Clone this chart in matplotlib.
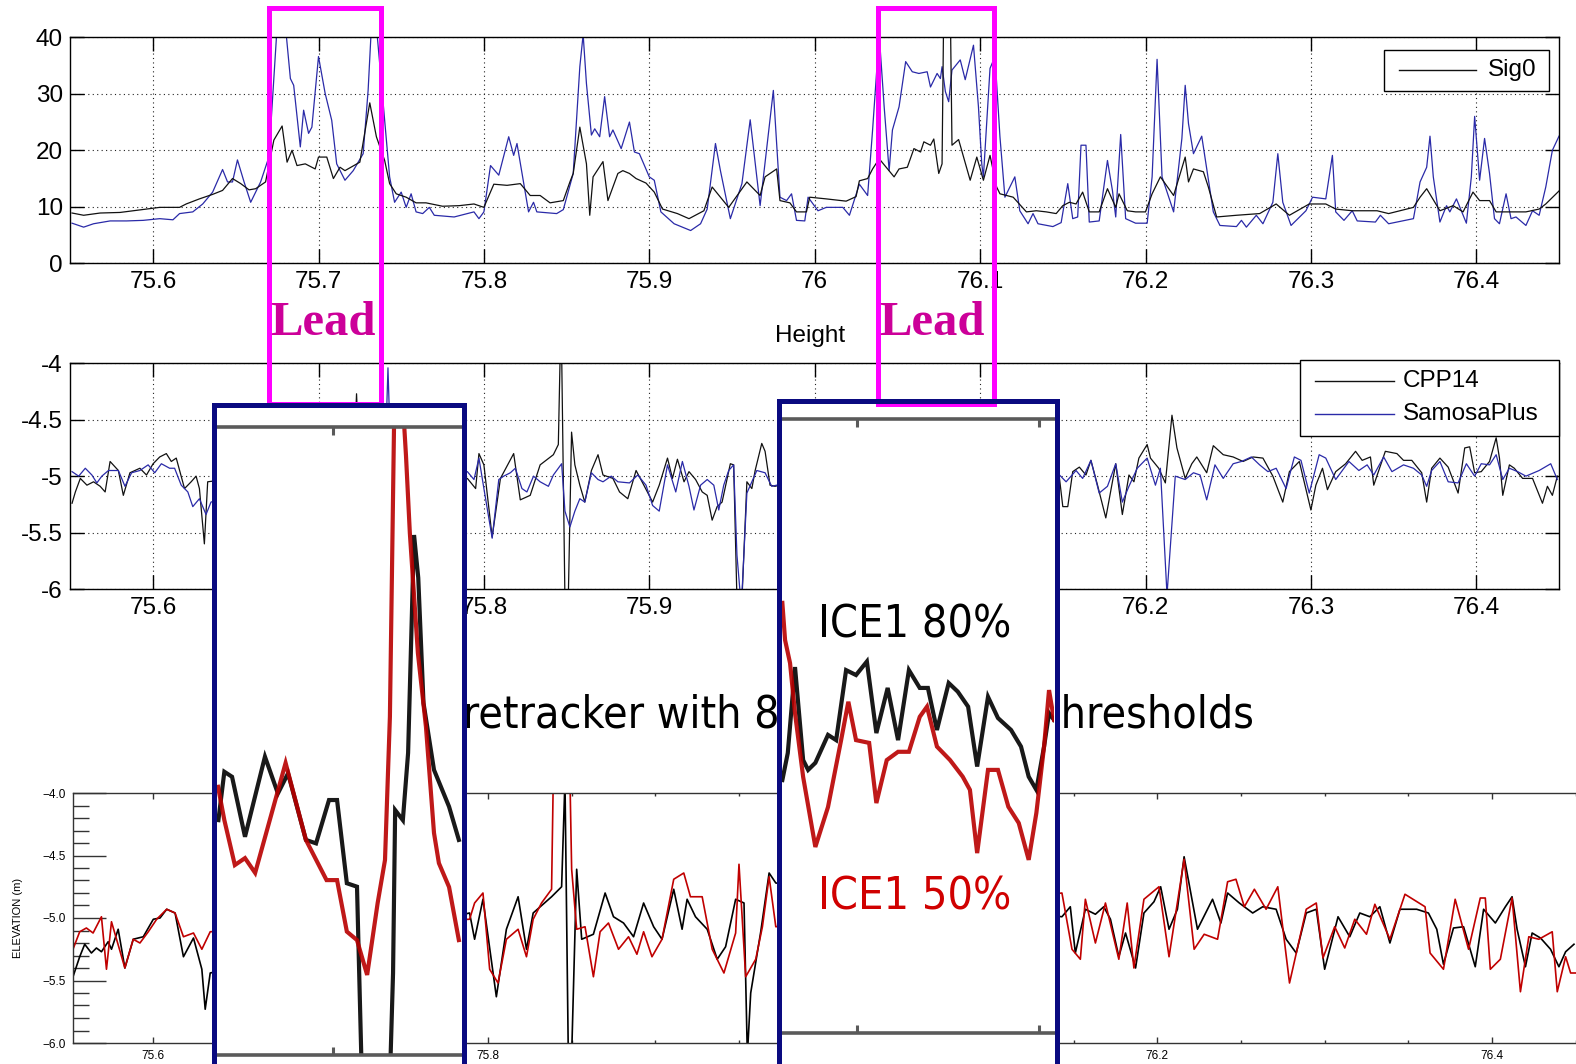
import numpy as np
import matplotlib
matplotlib.use('Agg')
import matplotlib.pyplot as plt
from matplotlib import font_manager
from matplotlib.patches import Rectangle
from matplotlib.lines import Line2D
from matplotlib.ticker import MultipleLocator, FixedLocator, FuncFormatter

W, H = 1576, 1064
plt.rcParams['axes.unicode_minus'] = False
plt.rcParams['font.family'] = ['Liberation Sans', 'DejaVu Sans']

# pick a narrow sans for the slide texts if one is installed
_installed = font_manager.fontManager.ttflist
_narrow = [f.name for f in _installed
           if ('Narrow' in f.name or 'Condensed' in f.name or f.stretch in ('condensed', 'semi-condensed'))
           and 'Serif' not in f.name and 'Mono' not in f.name]
NARROW = ([_narrow[0]] if _narrow else []) + ['Liberation Sans', 'DejaVu Sans']
NARROW_STRETCH = 'condensed' if _narrow else 'normal'

# ---------------- data: top panel (Sig0) ----------------
sig_black_x = [75.551, 75.558, 75.568, 75.580, 75.588, 75.596, 75.604, 75.616, 75.620, 75.628, 75.632, 75.636,
               75.642, 75.648, 75.653, 75.658, 75.662, 75.668, 75.673, 75.678, 75.681, 75.684, 75.687, 75.692,
               75.698, 75.700, 75.705, 75.709, 75.713, 75.716, 75.725, 75.731, 75.735, 75.740, 75.743, 75.747,
               75.753, 75.759, 75.765, 75.775, 75.785, 75.794, 75.800, 75.806, 75.814, 75.822, 75.828, 75.834,
               75.840, 75.848, 75.852, 75.854, 75.858, 75.862, 75.864, 75.866, 75.872, 75.875, 75.881, 75.884,
               75.888, 75.892, 75.898, 75.903, 75.908, 75.917, 75.924, 75.933, 75.938, 75.948, 75.959, 75.967,
               75.970, 75.977, 75.979, 75.985, 75.989, 75.995, 75.997, 76.007, 76.019, 76.025, 76.027, 76.032,
               76.035, 76.039, 76.048, 76.051, 76.056, 76.060, 76.064, 76.066, 76.070, 76.072, 76.075, 76.077,
               76.078, 76.082, 76.083, 76.087, 76.094, 76.098, 76.102, 76.106, 76.110, 76.112, 76.120, 76.128,
               76.134, 76.140, 76.146, 76.150, 76.154, 76.158, 76.162, 76.166, 76.172, 76.177, 76.182, 76.184,
               76.189, 76.194, 76.200, 76.204, 76.209, 76.217, 76.224, 76.226, 76.229, 76.235, 76.238, 76.243,
               76.255, 76.269, 76.279, 76.287, 76.299, 76.309, 76.315, 76.325, 76.340, 76.347, 76.362, 76.366,
               76.370, 76.378, 76.386, 76.392, 76.398, 76.402, 76.408, 76.412, 76.430, 76.438, 76.442, 76.450]
sig_black_y = [8.9, 8.5, 8.9, 9.0, 9.3, 9.6, 9.9, 9.9, 10.5, 11.4, 11.8, 12.2,
               12.9, 15.0, 14.1, 13.0, 13.2, 14.4, 21.8, 24.3, 17.9, 20.0, 17.3, 17.6,
               16.7, 18.8, 18.8, 15.0, 17.0, 16.4, 17.9, 28.4, 22.4, 18.2, 14.1, 12.3,
               11.7, 10.7, 10.7, 10.1, 10.2, 10.5, 9.9, 14.0, 13.8, 14.1, 12.0, 12.0,
               10.7, 11.1, 14.4, 15.9, 24.1, 17.6, 8.5, 15.3, 18.0, 11.1, 15.9, 16.4,
               15.9, 15.0, 14.2, 12.6, 9.6, 8.8, 7.9, 9.3, 13.5, 9.9, 14.4, 12.0,
               15.3, 16.7, 11.1, 10.7, 9.1, 9.1, 11.7, 11.4, 11.0, 11.8, 14.6, 15.0,
               16.7, 18.5, 15.3, 16.7, 17.0, 20.3, 19.7, 21.5, 20.9, 22.0, 15.9, 17.6,
               45.0, 45.0, 20.9, 21.9, 14.7, 18.8, 14.7, 19.1, 13.5, 12.3, 11.7, 9.1,
               9.3, 9.1, 8.8, 10.2, 10.8, 10.5, 12.6, 9.1, 9.1, 13.2, 9.9, 12.3,
               9.3, 9.1, 9.1, 12.3, 15.3, 12.0, 18.8, 14.4, 16.7, 16.2, 13.5, 8.2,
               8.5, 8.8, 10.5, 8.5, 10.5, 10.5, 9.6, 9.3, 9.3, 8.8, 9.9, 11.7,
               13.2, 9.3, 10.2, 9.1, 12.6, 11.1, 11.1, 9.1, 9.1, 9.6, 10.5, 12.8]

sig_blue_x = [75.551, 75.558, 75.564, 75.574, 75.584, 75.594, 75.604, 75.612, 75.616, 75.624, 75.630, 75.636,
              75.642, 75.645, 75.648, 75.651, 75.655, 75.659, 75.665, 75.670, 75.675, 75.680, 75.683, 75.685,
              75.689, 75.691, 75.694, 75.696, 75.700, 75.704, 75.708, 75.711, 75.716, 75.721, 75.727, 75.730,
              75.732, 75.735, 75.740, 75.743, 75.746, 75.750, 75.753, 75.756, 75.759, 75.763, 75.767, 75.770,
              75.782, 75.794, 75.797, 75.800, 75.804, 75.809, 75.815, 75.818, 75.820, 75.827, 75.830, 75.832,
              75.844, 75.848, 75.854, 75.858, 75.860, 75.862, 75.865, 75.867, 75.870, 75.873, 75.876, 75.878,
              75.883, 75.888, 75.891, 75.894, 75.900, 75.903, 75.907, 75.915, 75.925, 75.931, 75.935, 75.940,
              75.943, 75.949, 75.956, 75.961, 75.967, 75.975, 75.979, 75.983, 75.986, 75.989, 75.994, 75.996,
              76.002, 76.007, 76.017, 76.021, 76.027, 76.032, 76.035, 76.039, 76.042, 76.045, 76.047, 76.051,
              76.055, 76.059, 76.063, 76.068, 76.070, 76.074, 76.076, 76.077, 76.079, 76.081, 76.083, 76.088,
              76.091, 76.096, 76.099, 76.101, 76.102, 76.106, 76.109, 76.112, 76.115, 76.121, 76.124, 76.129,
              76.132, 76.135, 76.144, 76.149, 76.153, 76.156, 76.159, 76.161, 76.164, 76.166, 76.172, 76.177,
              76.180, 76.182, 76.185, 76.188, 76.194, 76.201, 76.204, 76.207, 76.210, 76.217, 76.222, 76.224,
              76.226, 76.229, 76.234, 76.241, 76.245, 76.255, 76.258, 76.261, 76.267, 76.271, 76.277, 76.280,
              76.283, 76.288, 76.297, 76.301, 76.309, 76.313, 76.315, 76.320, 76.325, 76.328, 76.339, 76.342,
              76.347, 76.362, 76.366, 76.370, 76.372, 76.374, 76.378, 76.382, 76.384, 76.388, 76.394, 76.397,
              76.399, 76.402, 76.405, 76.408, 76.411, 76.414, 76.418, 76.421, 76.424, 76.430, 76.434, 76.438,
              76.442, 76.446, 76.450]
sig_blue_y = [7.1, 6.4, 7.0, 7.5, 7.5, 7.6, 7.9, 7.7, 8.8, 9.1, 10.5, 12.6,
              16.6, 14.4, 14.4, 18.3, 14.4, 10.8, 14.4, 18.8, 42.0, 42.0, 32.7, 31.5,
              20.6, 27.1, 23.0, 24.1, 36.6, 30.1, 25.3, 17.6, 14.7, 16.4, 19.4, 30.6,
              42.0, 42.0, 25.3, 15.3, 10.8, 12.6, 9.9, 12.3, 9.1, 8.8, 9.9, 8.5,
              8.2, 9.1, 7.9, 9.1, 17.3, 15.6, 22.4, 19.1, 21.2, 9.1, 10.8, 9.1,
              8.8, 9.5, 15.9, 34.8, 40.5, 31.8, 22.7, 23.8, 22.4, 29.5, 22.4, 23.6,
              20.3, 25.0, 19.7, 19.4, 15.3, 14.7, 9.1, 7.0, 5.8, 7.0, 9.6, 21.2,
              16.4, 7.9, 14.1, 25.4, 10.2, 30.6, 11.7, 11.1, 12.3, 7.6, 7.5, 11.7,
              9.3, 9.9, 9.9, 8.5, 14.0, 12.0, 23.6, 40.5, 27.7, 16.4, 23.6, 27.7,
              35.7, 33.9, 33.6, 33.9, 31.2, 33.6, 32.7, 34.8, 30.4, 28.6, 34.2, 36.0,
              32.5, 38.6, 27.7, 17.6, 15.3, 34.5, 36.6, 22.4, 11.7, 15.3, 9.3, 7.0,
              8.8, 7.0, 6.5, 7.2, 14.1, 7.9, 8.2, 20.9, 20.9, 7.3, 7.5, 18.2,
              12.9, 8.2, 22.8, 7.9, 7.1, 7.1, 15.3, 36.1, 15.3, 9.1, 22.1, 31.5,
              24.7, 19.4, 22.5, 9.1, 6.7, 6.5, 7.6, 6.4, 8.5, 7.0, 10.8, 19.4,
              10.8, 6.7, 9.3, 11.7, 11.4, 19.1, 9.1, 7.6, 9.3, 7.5, 7.3, 8.5,
              7.0, 7.9, 14.4, 17.0, 22.5, 15.3, 7.3, 10.2, 9.1, 11.4, 7.1, 15.3,
              26.0, 14.7, 22.1, 15.9, 7.9, 7.0, 12.3, 7.9, 8.2, 6.7, 9.3, 8.5,
              13.5, 20.0, 22.5]

# ---------------- data: middle panel (Height) ----------------
cpp_x = [75.551, 75.553, 75.556, 75.560, 75.564, 75.568, 75.571, 75.574, 75.579, 75.582, 75.586, 75.592,
         75.596, 75.600, 75.604, 75.608, 75.611, 75.614, 75.619, 75.623, 75.626, 75.628, 75.631, 75.633,
         75.660, 75.700, 75.721, 75.723, 75.725, 75.760, 75.790, 75.795, 75.797, 75.800, 75.805, 75.810,
         75.818, 75.822, 75.828, 75.834, 75.842, 75.845, 75.846, 75.847, 75.849, 75.851, 75.853, 75.855,
         75.858, 75.861, 75.865, 75.869, 75.872, 75.878, 75.882, 75.887, 75.892, 75.896, 75.902, 75.906,
         75.911, 75.914, 75.917, 75.921, 75.924, 75.928, 75.932, 75.935, 75.938, 75.941, 75.944, 75.949,
         75.951, 75.953, 75.956, 75.959, 75.962, 75.964, 75.968, 75.970, 75.973, 75.976, 76.000, 76.040,
         76.090, 76.130, 76.148, 76.150, 76.153, 76.156, 76.160, 76.164, 76.167, 76.171, 76.176, 76.182,
         76.186, 76.190, 76.193, 76.196, 76.201, 76.203, 76.208, 76.212, 76.216, 76.219, 76.224, 76.228,
         76.231, 76.237, 76.241, 76.247, 76.253, 76.259, 76.265, 76.271, 76.277, 76.283, 76.287, 76.293,
         76.300, 76.303, 76.307, 76.310, 76.315, 76.321, 76.327, 76.331, 76.336, 76.338, 76.345, 76.352,
         76.356, 76.361, 76.367, 76.370, 76.373, 76.378, 76.383, 76.389, 76.393, 76.396, 76.399, 76.403,
         76.408, 76.412, 76.414, 76.416, 76.420, 76.423, 76.428, 76.434, 76.440, 76.443, 76.446, 76.449]
cpp_y = [-5.24, -5.14, -5.02, -5.08, -5.05, -5.09, -5.14, -4.87, -4.95, -5.17, -4.97, -4.93,
         -4.99, -4.89, -4.83, -4.80, -4.87, -4.84, -5.11, -5.05, -5.00, -5.11, -5.60, -5.05,
         -5.00, -5.00, -5.00, -4.27, -5.00, -5.00, -5.02, -5.11, -4.80, -4.90, -5.54, -5.02,
         -4.80, -5.21, -5.17, -4.90, -4.81, -4.72, -4.00, -3.90, -6.10, -6.10, -4.61, -4.90,
         -5.08, -5.23, -4.95, -4.81, -4.99, -5.02, -5.14, -5.20, -4.95, -5.06, -5.23, -5.08,
         -4.84, -5.02, -4.85, -5.05, -4.96, -5.03, -5.14, -5.17, -5.39, -5.27, -5.23, -4.89,
         -4.90, -6.10, -6.10, -5.05, -5.11, -4.95, -4.71, -4.78, -5.08, -5.09, -5.00, -5.05,
         -4.95, -5.00, -5.02, -5.27, -5.27, -4.96, -4.92, -4.99, -4.86, -5.08, -5.37, -4.89,
         -5.34, -4.99, -5.05, -4.84, -4.72, -4.84, -4.93, -5.06, -4.46, -4.75, -5.02, -4.89,
         -4.83, -4.97, -4.73, -4.81, -4.83, -4.87, -4.83, -4.84, -5.00, -5.23, -4.96, -4.87,
         -5.30, -5.08, -4.93, -5.12, -4.96, -4.89, -4.78, -4.86, -4.83, -5.08, -4.78, -4.80,
         -4.86, -4.86, -4.97, -5.23, -4.93, -4.84, -4.92, -5.15, -4.75, -4.74, -4.97, -4.96,
         -4.87, -4.66, -4.84, -5.17, -4.90, -4.93, -5.02, -5.02, -5.24, -5.09, -5.17, -5.00]

samosa_x = [75.551, 75.555, 75.559, 75.563, 75.566, 75.569, 75.573, 75.579, 75.583, 75.587, 75.592, 75.597,
            75.601, 75.605, 75.610, 75.613, 75.617, 75.621, 75.624, 75.628, 75.632, 75.635, 75.680, 75.740,
            75.742, 75.744, 75.770, 75.790, 75.794, 75.797, 75.800, 75.805, 75.809, 75.812, 75.816, 75.819,
            75.823, 75.826, 75.830, 75.834, 75.839, 75.842, 75.847, 75.849, 75.852, 75.855, 75.858, 75.861,
            75.865, 75.869, 75.872, 75.877, 75.881, 75.888, 75.893, 75.898, 75.902, 75.906, 75.911, 75.916,
            75.920, 75.924, 75.927, 75.931, 75.935, 75.939, 75.942, 75.945, 75.948, 75.951, 75.953, 75.955,
            75.956, 75.959, 75.962, 75.965, 75.970, 75.974, 75.977, 76.020, 76.080, 76.130, 76.148, 76.152,
            76.158, 76.162, 76.167, 76.172, 76.177, 76.182, 76.186, 76.190, 76.195, 76.201, 76.206, 76.209,
            76.213, 76.218, 76.224, 76.229, 76.233, 76.237, 76.242, 76.247, 76.253, 76.258, 76.264, 76.269,
            76.274, 76.279, 76.285, 76.290, 76.294, 76.299, 76.305, 76.309, 76.315, 76.323, 76.329, 76.334,
            76.338, 76.344, 76.349, 76.356, 76.362, 76.367, 76.370, 76.373, 76.378, 76.383, 76.389, 76.394,
            76.399, 76.403, 76.408, 76.412, 76.416, 76.420, 76.425, 76.430, 76.438, 76.445, 76.449]
samosa_y = [-4.96, -5.00, -4.93, -4.99, -5.06, -5.00, -4.95, -4.95, -5.09, -4.97, -4.95, -4.90,
            -4.97, -4.89, -4.93, -4.93, -5.08, -5.14, -5.27, -5.20, -5.34, -5.23, -5.00, -5.00,
            -4.04, -5.00, -5.00, -4.96, -5.03, -4.84, -5.11, -5.55, -5.03, -5.00, -4.97, -4.93,
            -5.11, -5.14, -5.00, -5.05, -5.09, -4.99, -4.89, -5.31, -5.45, -5.31, -5.20, -5.23,
            -4.97, -5.03, -5.05, -5.00, -5.05, -5.06, -4.99, -5.08, -5.26, -5.31, -4.90, -5.14,
            -4.87, -5.09, -5.30, -5.08, -5.03, -5.08, -5.30, -5.08, -4.95, -4.90, -5.70, -6.05,
            -6.05, -5.15, -5.05, -4.95, -4.97, -5.09, -5.08, -5.00, -5.00, -5.00, -4.99, -5.05,
            -4.95, -5.02, -4.86, -5.15, -5.09, -4.89, -5.23, -5.09, -4.93, -4.84, -5.08, -4.93,
            -6.05, -5.00, -5.03, -4.97, -4.99, -5.21, -4.90, -5.02, -4.89, -4.87, -4.83, -4.90,
            -4.96, -4.93, -5.11, -4.83, -4.86, -5.15, -4.81, -4.84, -5.03, -4.87, -4.95, -4.90,
            -4.99, -4.83, -4.96, -4.90, -4.93, -4.99, -5.09, -4.95, -4.87, -5.05, -5.06, -4.89,
            -5.00, -4.89, -4.90, -4.81, -5.03, -4.93, -4.96, -5.00, -4.95, -4.89, -5.03]

# ---------------- data: bottom panel (ICE1 elevation) ----------------
ice80_x = [75.552, 75.556, 75.559, 75.563, 75.566, 75.569, 75.573, 75.575, 75.579, 75.583, 75.588, 75.594,
           75.600, 75.604, 75.608, 75.613, 75.618, 75.624, 75.629, 75.631, 75.634, 75.789, 75.792, 75.797,
           75.805, 75.811, 75.818, 75.823, 75.827, 75.838, 75.844, 75.846, 75.848, 75.850, 75.853, 75.856,
           75.863, 75.870, 75.875, 75.881, 75.887, 75.893, 75.899, 75.904, 75.911, 75.916, 75.919, 75.924,
           75.931, 75.937, 75.942, 75.948, 75.953, 75.955, 75.957, 75.963, 75.968, 75.972, 76.143, 76.148,
           76.151, 76.157, 76.163, 76.168, 76.172, 76.177, 76.181, 76.187, 76.192, 76.198, 76.202, 76.207,
           76.212, 76.216, 76.224, 76.233, 76.238, 76.242, 76.249, 76.257, 76.263, 76.271, 76.277, 76.283,
           76.289, 76.295, 76.300, 76.304, 76.308, 76.315, 76.321, 76.327, 76.333, 76.339, 76.345, 76.355,
           76.362, 76.367, 76.371, 76.377, 76.383, 76.390, 76.395, 76.402, 76.408, 76.412, 76.415, 76.420,
           76.424, 76.429, 76.435, 76.440, 76.444, 76.449]
ice80_y = [-5.47, -5.31, -5.21, -5.28, -5.24, -5.27, -5.19, -5.25, -5.09, -5.40, -5.17, -5.15,
           -5.01, -5.00, -4.93, -4.96, -5.31, -5.16, -5.41, -5.73, -5.44, -4.96, -5.17, -4.85,
           -5.63, -5.09, -4.83, -5.25, -4.96, -4.83, -4.75, -3.90, -6.10, -6.10, -4.61, -5.17,
           -5.13, -4.80, -4.99, -5.04, -5.15, -4.88, -5.07, -5.17, -4.77, -5.09, -4.85, -4.99,
           -5.09, -5.33, -5.23, -4.85, -4.88, -6.10, -5.60, -5.11, -4.64, -4.72, -4.99, -4.91,
           -5.28, -4.93, -4.97, -4.91, -5.01, -5.31, -5.12, -5.40, -4.96, -4.87, -4.75, -5.09,
           -4.93, -4.51, -5.09, -4.85, -5.04, -4.80, -4.88, -4.96, -4.91, -4.93, -5.17, -5.28,
           -4.96, -4.93, -5.41, -5.20, -4.99, -5.15, -4.96, -4.99, -4.91, -5.20, -4.93, -4.93,
           -4.96, -5.09, -5.37, -5.08, -5.07, -5.39, -4.93, -5.04, -4.91, -4.83, -5.09, -5.39,
           -5.12, -5.16, -5.25, -5.39, -5.27, -5.21]

ice50_x = [75.552, 75.556, 75.560, 75.564, 75.569, 75.572, 75.575, 75.583, 75.588, 75.592, 75.597, 75.602,
           75.608, 75.613, 75.618, 75.624, 75.629, 75.634, 75.789, 75.792, 75.797, 75.801, 75.806, 75.811,
           75.818, 75.823, 75.827, 75.832, 75.838, 75.839, 75.849, 75.850, 75.853, 75.858, 75.863, 75.867,
           75.872, 75.878, 75.884, 75.889, 75.893, 75.898, 75.904, 75.911, 75.917, 75.921, 75.928, 75.934,
           75.941, 75.948, 75.950, 75.954, 75.960, 75.964, 75.968, 75.972, 76.143, 76.149, 76.154, 76.157,
           76.163, 76.169, 76.177, 76.182, 76.186, 76.192, 76.201, 76.207, 76.216, 76.222, 76.228, 76.236,
           76.242, 76.247, 76.252, 76.258, 76.265, 76.272, 76.279, 76.289, 76.295, 76.299, 76.306, 76.312,
           76.318, 76.325, 76.330, 76.339, 76.348, 76.360, 76.363, 76.371, 76.378, 76.386, 76.393, 76.396,
           76.399, 76.405, 76.412, 76.417, 76.422, 76.428, 76.436, 76.439, 76.444, 76.447, 76.450]
ice50_y = [-5.25, -5.11, -5.08, -5.12, -4.99, -5.41, -5.03, -5.40, -5.17, -5.20, -5.11, -5.01,
           -4.93, -4.96, -5.15, -5.12, -5.25, -5.11, -5.01, -4.88, -4.80, -5.41, -5.52, -5.17,
           -5.09, -5.31, -5.01, -4.88, -4.77, -3.90, -3.90, -4.61, -5.09, -5.07, -5.47, -5.11,
           -5.04, -5.25, -5.15, -5.29, -5.11, -5.31, -5.17, -4.69, -4.64, -4.83, -4.83, -5.25,
           -5.44, -5.12, -4.57, -5.47, -5.33, -5.07, -4.67, -5.07, -4.80, -5.25, -5.33, -4.85,
           -5.20, -4.88, -5.33, -4.88, -5.40, -4.85, -4.75, -5.31, -4.53, -5.25, -5.13, -5.17,
           -4.71, -4.69, -4.91, -4.77, -4.93, -4.75, -5.52, -4.93, -4.88, -5.32, -5.07, -5.24,
           -5.01, -5.13, -4.89, -5.17, -4.81, -4.91, -5.28, -5.41, -4.85, -5.25, -4.84, -4.84,
           -5.41, -5.33, -4.84, -5.59, -5.15, -5.17, -5.11, -5.59, -5.31, -5.44, -5.44]

# ---------------- data: zoomed insets ----------------
lead1_80_x = [75.6704, 75.6721, 75.6743, 75.6780, 75.6837, 75.6874, 75.6903, 75.6954, 75.6983, 75.7020,
              75.7043, 75.7071, 75.7100, 75.7114, 75.7194, 75.7203, 75.7209, 75.7231, 75.7246, 75.7263,
              75.7275, 75.7290, 75.7320, 75.7363, 75.7391]
lead1_80_y = [-5.252, -5.098, -5.114, -5.305, -5.050, -5.167, -5.103, -5.315, -5.326, -5.188,
              -5.188, -5.453, -5.464, -6.080, -6.080, -5.739, -5.220, -5.252, -5.038, -4.344,
              -4.480, -4.879, -5.092, -5.209, -5.315]
lead1_50_x = [75.6703, 75.6721, 75.6751, 75.6780, 75.6809, 75.6896, 75.6954, 75.7013, 75.7043, 75.7071,
              75.7100, 75.7129, 75.7159, 75.7180, 75.7194, 75.7200, 75.7206, 75.7234, 75.7240, 75.7251,
              75.7274, 75.7297, 75.7320, 75.7334, 75.7363, 75.7391]
lead1_50_y = [-5.146, -5.252, -5.395, -5.373, -5.420, -5.070, -5.315, -5.443, -5.443, -5.607,
              -5.634, -5.745, -5.516, -5.379, -4.923, -4.455, -3.980, -3.980, -4.092, -4.338,
              -4.720, -4.955, -5.293, -5.389, -5.465, -5.634]

lead2_80_x = [76.0403, 76.0415, 76.0431, 76.0449, 76.0460, 76.0476, 76.0504, 76.0522, 76.0544, 76.0566,
              76.0590, 76.0611, 76.0636, 76.0659, 76.0683, 76.0707, 76.0725, 76.0745, 76.0771, 76.0791,
              76.0814, 76.0834, 76.0858, 76.0880, 76.0909, 76.0931, 76.0948, 76.0965, 76.0982, 76.0993,
              76.1004]
lead2_80_y = [-5.176, -5.088, -4.808, -5.111, -5.143, -5.120, -5.029, -5.046, -4.818, -4.834,
              -4.790, -5.023, -4.876, -5.046, -4.818, -4.876, -4.876, -5.013, -4.860, -4.888,
              -4.937, -5.132, -4.905, -4.974, -5.013, -5.067, -5.165, -5.208, -5.067, -4.958,
              -4.980]
lead2_50_x = [76.0403, 76.0409, 76.0420, 76.0431, 76.0449, 76.0476, 76.0504, 76.0533, 76.0549, 76.0566,
              76.0595, 76.0611, 76.0634, 76.0659, 76.0683, 76.0707, 76.0723, 76.0745, 76.0774, 76.0802,
              76.0818, 76.0834, 76.0858, 76.0880, 76.0903, 76.0926, 76.0948, 76.0965, 76.0982, 76.0993,
              76.1004]
lead2_50_y = [-4.599, -4.720, -4.795, -4.958, -5.166, -5.394, -5.264, -5.046, -4.921, -5.046,
              -5.055, -5.251, -5.111, -5.084, -5.084, -4.970, -4.937, -5.067, -5.111, -5.165,
              -5.208, -5.414, -5.143, -5.143, -5.263, -5.316, -5.436, -5.283, -5.067, -4.883,
              -4.980]

lat_ticks = [75.6, 75.7, 75.8, 75.9, 76.0, 76.1, 76.2, 76.3, 76.4]
lat_labels = ['75.6', '75.7', '75.8', '75.9', '76', '76.1', '76.2', '76.3', '76.4']
# labels of the height panel that sit under the zoom boxes
lat_labels_mid = ['75.6', '', '75.8', '75.9', '', '', '76.2', '76.3', '76.4']

BLUE = '#2a2aa8'
RED = '#c00000'
NAVY = '#0a0a80'
MAGENTA = '#ff00ff'


def rect(l, t, r, b):
    return [l / W, 1 - b / H, (r - l) / W, (b - t) / H]


def fpt(x, y):
    return x / W, 1 - y / H


fig = plt.figure(figsize=(W / 100, H / 100), dpi=100)
renderer = fig.canvas.get_renderer()


def text_width(text, size):
    t = fig.text(0, 0, text, fontsize=size, family=NARROW, fontstretch=NARROW_STRETCH)
    w = t.get_window_extent(renderer).width
    t.remove()
    return w


def fit_size(text, target_px, base=40):
    # font size that gives `text` the width it has on the slide
    return base * target_px / text_width(text, base)


def matlab_axes(ax, yticks, ylabels, xlabels):
    ax.set_xlim(75.55, 76.45)
    ax.set_xticks(lat_ticks)
    ax.set_xticklabels(xlabels)
    ax.set_yticks(yticks)
    ax.set_yticklabels(ylabels)
    ax.tick_params(direction='in', length=10, width=1, top=True, right=True,
                   labelsize=17.5, pad=5.5)
    ax.grid(True, color='#222222', linestyle=(0, (1, 3)), linewidth=0.8)
    for s in ax.spines.values():
        s.set_linewidth(1)


# --- top panel
ax1 = fig.add_axes(rect(70.4, 37.3, 1559, 263.3))
ax1.plot(sig_blue_x, sig_blue_y, color=BLUE, lw=0.9)
ax1.plot(sig_black_x, sig_black_y, color='#111111', lw=0.9)
ax1.set_ylim(0, 40)
matlab_axes(ax1, [0, 10, 20, 30, 40], ['0', '10', '20', '30', '40'], lat_labels)

# --- middle panel
ax2 = fig.add_axes(rect(70.4, 363.3, 1559, 589))
ax2.plot(cpp_x, cpp_y, color='#111111', lw=0.9)
ax2.plot(samosa_x, samosa_y, color=BLUE, lw=0.9)
ax2.set_ylim(-6, -4)
matlab_axes(ax2, [-6, -5.5, -5, -4.5, -4], ['-6', '-5.5', '-5', '-4.5', '-4'], lat_labels_mid)

fig.text(*fpt(810, 336), 'Height', ha='center', va='center', fontsize=17.5)


def legend_box(l, t, r, b, entries):
    fig.patches.append(Rectangle(fpt(l, b), (r - l) / W, (b - t) / H, transform=fig.transFigure,
                                 facecolor='white', edgecolor='black', lw=1, zorder=2))
    for (x0, x1, xt, y, label, color) in entries:
        fig.lines.append(Line2D([x0 / W, x1 / W], [1 - y / H, 1 - y / H], transform=fig.transFigure,
                                color=color, lw=1, zorder=2.1))
        fig.text(xt / W, 1 - y / H, label, ha='left', va='center', fontsize=17.5, zorder=2.1)


legend_box(1384, 50, 1549, 91, [(1399, 1476, 1488, 70, 'Sig0', '#111111')])
legend_box(1300, 360, 1559, 436, [(1315, 1394, 1403, 381, 'CPP14', '#111111'),
                                  (1315, 1394, 1403, 414, 'SamosaPlus', BLUE)])

# --- title of the ICE1 figure (partly hidden by the zoom boxes):
# "retracker" starts at the left box edge, the "t" of thresholds ends under the right box
title_size = fit_size('retracker with 80% and 50% t', 1060 - 463)
title_right = 463 + text_width('retracker with 80% and 50% thresholds', title_size)
fig.text(title_right / W, 1 - 728 / H, 'ICE1 retracker with 80% and 50% thresholds', ha='right',
         va='baseline', fontsize=title_size, family=NARROW, fontstretch=NARROW_STRETCH, zorder=1)

# --- bottom panel
ax3 = fig.add_axes(rect(73, 793, 1579, 1043))
ax3.plot(ice80_x, ice80_y, color='black', lw=1.2)
ax3.plot(ice50_x, ice50_y, color=RED, lw=1.2)
ax3.set_xlim(75.552, 76.452)
ax3.set_ylim(-6, -4)
ax3.spines['right'].set_visible(False)
for s in ax3.spines.values():
    s.set_color('#333333')
    s.set_linewidth(1)
ax3.xaxis.set_major_locator(FixedLocator([75.6, 75.8, 76.0, 76.2, 76.4]))
ax3.xaxis.set_minor_locator(MultipleLocator(0.05))
ax3.yaxis.set_major_locator(MultipleLocator(0.5))
ax3.yaxis.set_minor_locator(MultipleLocator(0.1))
ax3.xaxis.set_major_formatter(FuncFormatter(lambda v, p: '' if abs(v - 76.0) < 1e-6 else '%.1f' % v))
ax3.yaxis.set_major_formatter(FuncFormatter(lambda v, p: ('%.1f' % v).replace('-', '\u2212')))
ax3.tick_params(axis='y', which='major', direction='in', length=24, width=1, right=False,
                labelsize=8.5, pad=5, color='#333333')
ax3.tick_params(axis='y', which='minor', direction='in', length=11.5, width=1, right=False,
                color='#333333')
ax3.tick_params(axis='x', which='major', direction='in', length=4, width=1, top=True,
                labelsize=8.5, pad=5, color='#333333')
ax3.tick_params(axis='x', which='minor', direction='in', length=2.5, width=1, top=True,
                color='#333333')
ax3.set_ylabel('ELEVATION (m)', fontsize=8)
ax3.yaxis.set_label_coords((23 - 73) / 1506, 0.5)

# --- magenta "Lead" frames
for (l, r) in [(269, 381), (877.5, 994)]:
    fig.patches.append(Rectangle(fpt(l, 404), (r - l) / W, (404 - 8) / H, transform=fig.transFigure,
                                 fill=False, edgecolor=MAGENTA, lw=3.6, zorder=3.5))
for xc in [322.5, 932]:
    fig.text(xc / W, 1 - 335 / H, 'Lead', ha='center', va='baseline', fontsize=35,
             fontweight='bold', family=['Liberation Serif', 'DejaVu Serif'], color='#cc0099', zorder=5)


# --- navy zoom boxes with the enlarged ICE1 curves
def zoom_box(l, t, r, inner, xlim, xt, x80, y80, x50, y50):
    fig.patches.append(Rectangle(fpt(l, H + 20), (r - l) / W, (H + 20 - t) / H, transform=fig.transFigure,
                                 facecolor='white', edgecolor='none', zorder=2))
    axz = fig.add_axes(rect(*inner))
    axz.set_zorder(3)
    axz.set_facecolor('none')
    axz.plot(x80, y80, color='black', lw=3, alpha=0.9, solid_joinstyle='miter')
    axz.plot(x50, y50, color='#b80000', lw=3, alpha=0.9, solid_joinstyle='miter')
    axz.set_xlim(*xlim)
    axz.set_ylim(-6, -4)
    for side in ['left', 'right']:
        axz.spines[side].set_visible(False)
    for side in ['top', 'bottom']:
        axz.spines[side].set_color('#5a5a5a')
        axz.spines[side].set_linewidth(2.6)
    axz.set_xticks(xt)
    axz.set_yticks([])
    axz.tick_params(axis='x', direction='in', length=6, width=2.2, color='#5a5a5a', top=True,
                    bottom=True, labelbottom=False)
    fig.patches.append(Rectangle(fpt(l, H + 20), (r - l) / W, (H + 20 - t) / H, transform=fig.transFigure,
                                 fill=False, edgecolor=NAVY, lw=3.6, zorder=4))
    return axz


zoom_box(214, 405, 464, (217, 427, 462, 1055), (75.67, 75.74), [75.7031],
         lead1_80_x, lead1_80_y, lead1_50_x, lead1_50_y)
zoom_box(778.5, 401, 1057, (781, 419, 1054, 1033), (76.04, 76.1004), [76.0568, 76.0971],
         lead2_80_x, lead2_80_y, lead2_50_x, lead2_50_y)

ice_size = fit_size('ICE1 80%', 193)
fig.text(818 / W, 1 - 637 / H, 'ICE1 80%', ha='left', va='baseline', fontsize=ice_size, family=NARROW,
         fontstretch=NARROW_STRETCH, color='black', zorder=5)
fig.text(818 / W, 1 - 909 / H, 'ICE1 50%', ha='left', va='baseline', fontsize=ice_size, family=NARROW,
         fontstretch=NARROW_STRETCH, color='#d00000', zorder=5)

fig.savefig('out.png', dpi=100)
